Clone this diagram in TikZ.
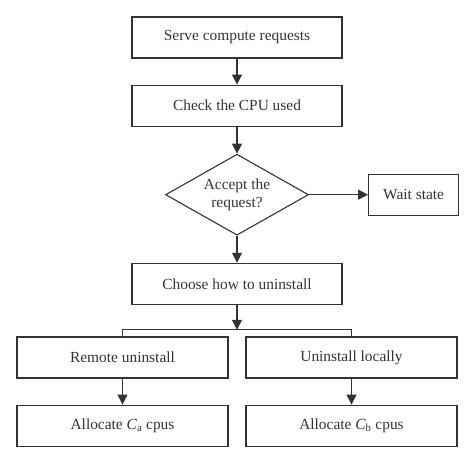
\documentclass[tikz,border=0pt]{standalone}
\usepackage{fontspec}
\setmainfont{Liberation Serif}
\usetikzlibrary{arrows.meta, positioning, shapes.geometric}
\tikzstyle{flow}=[x=1pt, y=1pt, node distance=26pt, line width=1.1pt, color=black!80, >={Triangle[length=10pt,width=10pt]}, font=\fontsize{15.4}{18}\selectfont]
\tikzstyle{stepbox}=[draw, rectangle, minimum width=210pt, minimum height=41pt, inner sep=2pt]
\tikzstyle{decision}=[draw, diamond, align=center, inner sep=0pt, shape aspect=1.77, minimum width=143pt, minimum height=81pt]

\begin{document}
\begin{tikzpicture}[flow]
  \useasboundingbox (0,0) rectangle (474,-463);
  \node[stepbox] (serve) at (237,-37.5) {Serve compute requests};
  \node[stepbox] (check) [below=of serve] {Check the CPU used};
  \node[decision] (accept) [below=27pt of check] {Accept the\\request?};
  \node[stepbox, minimum width=90pt] (wait) [right=59pt of accept] {Wait state};
  \node[stepbox] (choose) [below=27pt of accept] {Choose how to uninstall};
  \coordinate (split) at ([yshift=-25pt]choose.south);
  \node[stepbox, minimum width=211pt] (remote) at (122.5,-357.5) {Remote uninstall};
  \node[stepbox, minimum width=211pt] (local) at (351.5,-357.5) {Uninstall locally};
  \node[stepbox, minimum width=211pt] (alloca) [below=of remote] {Allocate \textit{C}\textsubscript{a} cpus};
  \node[stepbox, minimum width=211pt] (allocb) [below=of local] {Allocate \textit{C}\textsubscript{b} cpus};
  \draw[->] (serve) -- (check);
  \draw[->] (check) -- (accept);
  \draw[->] (accept) -- (wait);
  \draw[->] (accept) -- (choose);
  \draw[->] (choose) -- (split);
  \draw (remote) |- (split) -| (local);
  \draw[->] (remote) -- (alloca);
  \draw[->] (local) -- (allocb);
\end{tikzpicture}
\end{document}
